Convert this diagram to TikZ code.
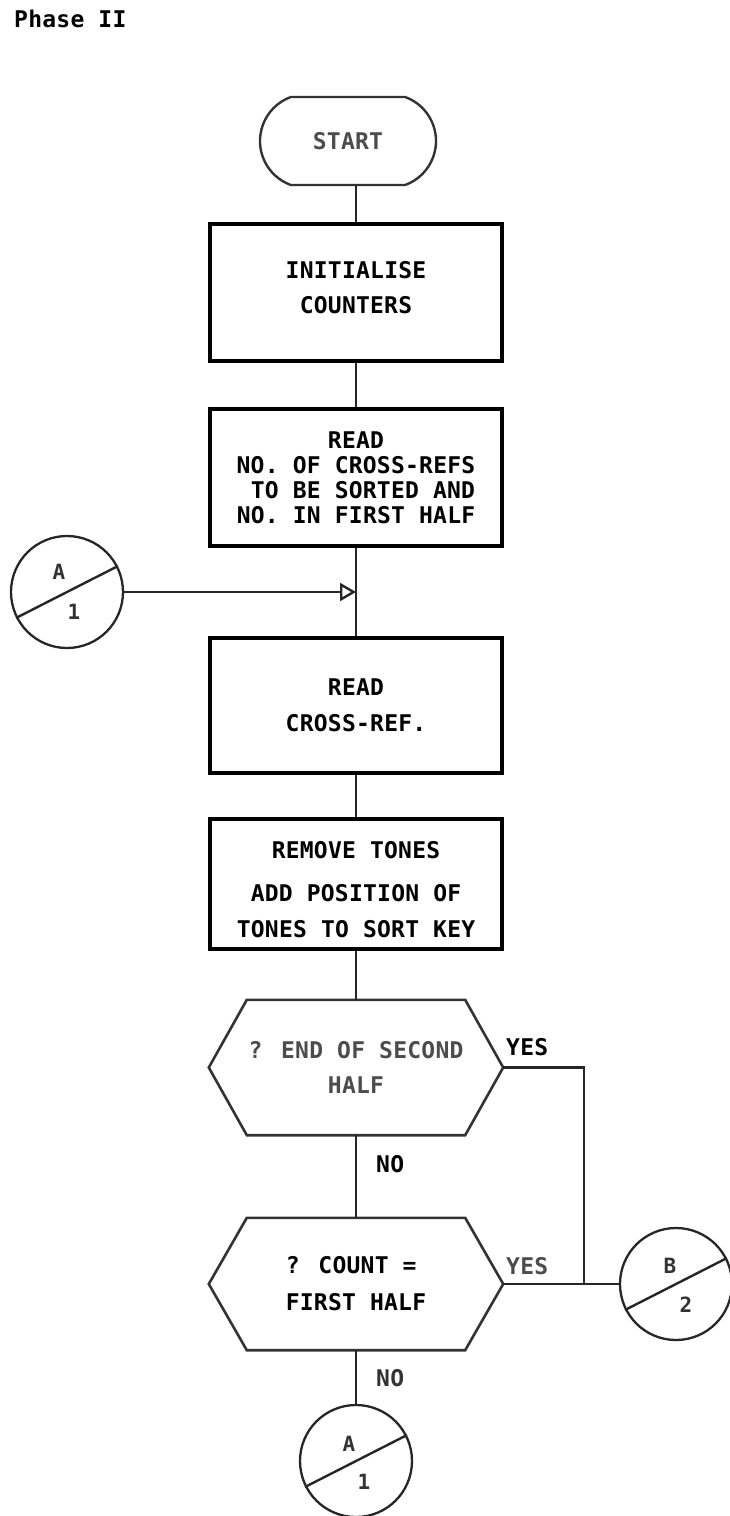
\documentclass[tikz,border=0pt]{standalone}
\usepackage{fontspec}
\newfontfamily\flowfont[LetterSpace=1]{DejaVu Sans Mono}
\usetikzlibrary{shapes.geometric, shapes.misc, arrows.meta, positioning, calc}
\tikzstyle{process} = [rectangle, draw=black, line width=3.2pt, minimum width=292pt, align=center]
\tikzstyle{startstop} = [rounded rectangle, rounded rectangle arc length=140, draw=black!80, line width=2.4pt, minimum width=176pt, minimum height=88pt, text=black!70]
\tikzstyle{decision} = [rectangle, minimum width=218pt]
\tikzstyle{hexline} = [draw=black!80, line width=2.6pt, line join=miter]
\tikzstyle{conn} = [circle, draw=black!85, line width=2.3pt, minimum size=112pt]
\tikzstyle{connlabel} = [font=\flowfont\bfseries\fontsize{21}{23}\selectfont, text=black!80]
\tikzstyle{flow} = [draw=black!85, line width=2.4pt]
\tikzstyle{arrow} = [flow, -{Triangle[open, length=16pt, width=18pt]}]

\begin{document}
\begin{tikzpicture}[x=1pt, y=-1pt,
    every node/.style={inner sep=0pt, font=\flowfont\bfseries\fontsize{23}{25}\selectfont}]
    \useasboundingbox (0,0) rectangle (729,1516);
    \node[anchor=base west] (title) at (14,27) {Phase II};
    \node[startstop] (st) at (348,141) {START};
    \node[process, minimum height=137pt] (init) at (356,292.5)
        {INITIALISE\\[10pt]COUNTERS\rule[-10pt]{0pt}{10pt}};
    \node[process, minimum height=137pt] (readno) at (356,477.5)
        {READ\\NO. OF CROSS-REFS\\\hphantom{X}TO BE SORTED AND\\NO. IN FIRST HALF};
    \node[process, minimum height=135pt] (readref) at (356,705.5) {READ\\[11pt]CROSS-REF.};
    \node[process, minimum height=130pt] (tones) at (356,884)
        {REMOVE TONES\rule{0pt}{29pt}\\[18pt]ADD POSITION OF\\[11pt]TONES TO SORT KEY};
    \node[decision, minimum height=135pt, align=center, text=black!70] (endq) at (356,1067.5)
        {? END OF SECOND\\[10pt]HALF};
    \node[decision, minimum height=132pt, align=left] (countq) at (356,1284)
        {? COUNT =\\[12pt]FIRST HALF};
    \foreach \q in {endq, countq} {
        \draw[hexline] (\q.north west) -- (\q.north east) -- ([xshift=38pt]\q.east)
            -- (\q.south east) -- (\q.south west) -- ([xshift=-38pt]\q.west) -- cycle;
    }
    \coordinate (endqr) at ([xshift=38pt]endq.east);
    \coordinate (countqr) at ([xshift=38pt]countq.east);
    \node[conn] (conA) at (67,592) {};
    \node[conn] (conB) at (676,1284) {};
    \node[conn] (conA2) at (356,1461) {};
    \foreach \c in {conA, conB, conA2} {
        \draw[flow] (\c.207) -- (\c.27);
    }
    \node[connlabel] (conAtop) at ($(conA)+(-8,-20)$) {A};
    \node[connlabel] (conAbot) at ($(conA)+(7,20)$) {1};
    \node[connlabel] (conBtop) at ($(conB)+(-6,-18)$) {B};
    \node[connlabel] (conBbot) at ($(conB)+(10,21)$) {2};
    \node[connlabel] (conA2top) at ($(conA2)+(-7,-17)$) {A};
    \node[connlabel] (conA2bot) at ($(conA2)+(8,21)$) {1};
    \node[anchor=west] (yes1) at (506,1047) {YES};
    \node[anchor=west, text=black!70] (yes2) at (506,1266) {YES};
    \node[anchor=west] (no1) at (376,1164) {NO};
    \node[anchor=west, text=black!80] (no2) at (376,1378) {NO};
    \coordinate (join) at (584,1284);
    \draw[flow] (st.south -| init.north) -- (init.north);
    \draw[flow] (init.south) -- (readno.north);
    \draw[flow] (readno.south) -- (readref.north);
    \draw[arrow] (conA.east) -- (conA.east -| readno.south);
    \draw[flow] (readref.south) -- (tones.north);
    \draw[flow] (tones.south) -- (endq.north);
    \draw[flow] (endq.south) -- (countq.north);
    \draw[flow] (endqr) -| (join);
    \draw[flow] (countqr) -- (conB.west);
    \draw[flow] (countq.south) -- (conA2.north);
\end{tikzpicture}
\end{document}
